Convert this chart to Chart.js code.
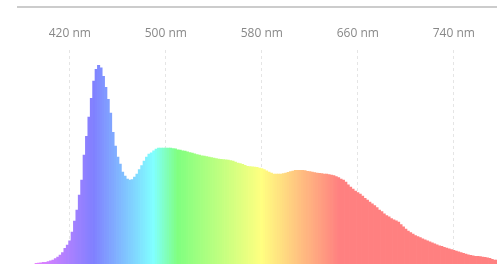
<!DOCTYPE html>
<html>
<head>
<meta charset="utf-8">
<script src="https://cdn.jsdelivr.net/npm/chart.js@4"></script>
<style>
    html, body { margin: 0; padding: 0; background: #fff; }
    #wrap { position: relative; width: 497px; height: 264px; }
    #rule { position: absolute; left: 17px; top: 6px; width: 480px; height: 2px; background: #cccccc; }
</style>
</head>
<body>
<div id="wrap">
    <canvas id="spectrum" width="497" height="264"></canvas>
    <div id="rule"></div>
</div>
<script>
// Wavelength axis (nm)
const wavelengthStart = 392;
const wavelengthStep = 2;
const tickValues = [420, 500, 580, 660, 740];

// Relative intensity, one value every 2 nm from 392 nm (peak = 1)
const intensity = [
    0.004, 0.005, 0.006, 0.008, 0.009, 0.012, 0.016, 0.020, 0.027, 0.035,
    0.045, 0.058, 0.079, 0.095, 0.116, 0.161, 0.216, 0.271, 0.347, 0.422,
    0.548, 0.643, 0.739, 0.834, 0.920, 0.980, 1.000, 0.987, 0.945, 0.889,
    0.829, 0.759, 0.663, 0.593, 0.538, 0.503, 0.462, 0.442, 0.427, 0.422,
    0.425, 0.437, 0.452, 0.475, 0.495, 0.518, 0.538, 0.553, 0.560, 0.570,
    0.578, 0.583, 0.584, 0.584, 0.584, 0.584, 0.583, 0.581, 0.580, 0.575,
    0.573, 0.570, 0.568, 0.564, 0.561, 0.558, 0.554, 0.551, 0.548, 0.545,
    0.543, 0.540, 0.538, 0.535, 0.533, 0.530, 0.528, 0.527, 0.525, 0.524,
    0.523, 0.521, 0.518, 0.513, 0.508, 0.505, 0.501, 0.497, 0.492, 0.490,
    0.489, 0.488, 0.486, 0.483, 0.480, 0.475, 0.469, 0.462, 0.457, 0.453,
    0.452, 0.452, 0.452, 0.455, 0.457, 0.461, 0.465, 0.468, 0.471, 0.471,
    0.471, 0.471, 0.470, 0.467, 0.465, 0.462, 0.460, 0.457, 0.456, 0.455,
    0.453, 0.452, 0.450, 0.447, 0.445, 0.440, 0.435, 0.428, 0.422, 0.412,
    0.399, 0.387, 0.377, 0.367, 0.359, 0.352, 0.342, 0.330, 0.322, 0.312,
    0.303, 0.294, 0.284, 0.271, 0.264, 0.253, 0.244, 0.237, 0.229, 0.222,
    0.217, 0.211, 0.198, 0.187, 0.176, 0.166, 0.158, 0.151, 0.143, 0.138,
    0.133, 0.127, 0.122, 0.117, 0.112, 0.107, 0.102, 0.096, 0.092, 0.089,
    0.084, 0.080, 0.076, 0.073, 0.069, 0.065, 0.061, 0.058, 0.054, 0.050,
    0.046, 0.044, 0.041, 0.039, 0.038, 0.037, 0.035, 0.033, 0.031, 0.029,
    0.023, 0.020, 0.020
];

const wavelengths = intensity.map((v, i) => wavelengthStart + i * wavelengthStep);

// Visible colour of a wavelength, washed out with white
function wavelengthColor(w) {
    let r = 0, g = 0, b = 0;
    if (w < 440) { r = (440 - w) / 60; b = 1; }
    else if (w < 490) { g = (w - 440) / 50; b = 1; }
    else if (w < 510) { g = 1; b = (510 - w) / 20; }
    else if (w < 580) { r = (w - 510) / 70; g = 1; }
    else if (w < 645) { r = 1; g = (645 - w) / 65; }
    else { r = 1; }
    const mix = c => Math.round(127.5 + c * 127.5);
    return `rgb(${mix(r)}, ${mix(g)}, ${mix(b)})`;
}

const ctx = document.getElementById('spectrum').getContext('2d');

new Chart(ctx, {
    type: 'bar',
    data: {
        labels: wavelengths,
        datasets: [{
            data: intensity,
            backgroundColor: wavelengths.map(wavelengthColor),
            borderWidth: 0,
            barPercentage: 1,
            categoryPercentage: 1
        }]
    },
    options: {
        responsive: false,
        animation: false,
        layout: {
            padding: { left: 17, right: 0, top: 16, bottom: 0 }
        },
        plugins: {
            legend: { display: false },
            tooltip: { enabled: false }
        },
        scales: {
            x: {
                type: 'linear',
                position: 'top',
                min: 376,
                max: 776,
                offset: false,
                z: 1,
                afterBuildTicks: scale => {
                    scale.ticks = tickValues.map(v => ({ value: v }));
                },
                grid: {
                    color: 'rgba(0, 0, 0, 0.1)',
                    lineWidth: 1,
                    drawTicks: false,
                    offset: false
                },
                border: { display: false, dash: [3, 3] },
                ticks: {
                    color: '#888888',
                    padding: 10,
                    maxRotation: 0,
                    font: { size: 12, family: 'Open Sans' },
                    callback: value => value + ' nm'
                }
            },
            y: {
                display: false,
                min: 0,
                max: 1.075
            }
        }
    }
});
</script>
</body>
</html>
